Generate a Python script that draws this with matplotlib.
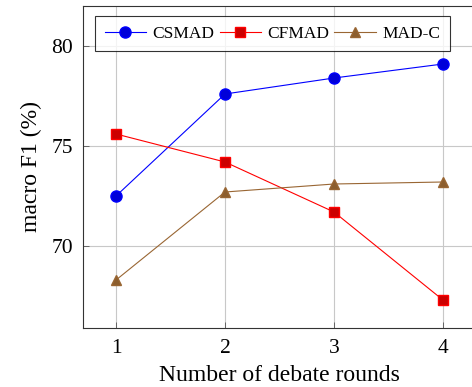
import numpy as np
import matplotlib
matplotlib.use("Agg")
import matplotlib.pyplot as plt

plt.rcParams['font.family'] = ['Liberation Serif', 'DejaVu Serif']
plt.rcParams['mathtext.fontset'] = 'stix'

rounds = [1, 2, 3, 4]
csmad = [72.5, 77.6, 78.4, 79.1]
cfmad = [75.6, 74.2, 71.7, 67.3]
madc = [68.3, 72.7, 73.1, 73.2]

fig = plt.figure(figsize=(4.72, 3.87), dpi=100)
ax = fig.add_axes([83/472, 59/387, 393/472, 322/387])

ax.plot(rounds, csmad, color='blue', lw=0.8, marker='o', ms=8,
        mfc=(0, 0, 0.85), mec='blue', label='CSMAD', zorder=3)
ax.plot(rounds, cfmad, color='red', lw=0.8, marker='s', ms=7.5,
        mfc=(0.8, 0, 0), mec='red', label='CFMAD', zorder=3)
ax.plot(rounds, madc, color=(0.6, 0.4, 0.2), lw=0.8, marker='^', ms=7.5,
        mfc=(0.55, 0.37, 0.18), mec=(0.6, 0.4, 0.2), label='MAD-C', zorder=3)

ax.set_xlim(0.697, 4.303)
ax.set_ylim(65.9, 82)
ax.set_xticks(rounds)
ax.set_yticks([70, 75, 80])
ax.grid(True, color='#c8c8c8', lw=0.8)
ax.tick_params(direction='in', length=4, width=0.6, color='#555555',
               labelsize=15.5, top=False, right=False)
ax.tick_params(axis='x', pad=8)
ax.tick_params(axis='y', pad=7)
for s in ax.spines.values():
    s.set_linewidth(0.8)
    s.set_color('#333333')

ax.set_xlabel('Number of debate rounds', fontsize=17, labelpad=5)
ax.set_ylabel('macro F1 (%)', fontsize=17, labelpad=7)

leg = ax.legend(loc='upper left', bbox_to_anchor=(12/393, 1 - 10/322), ncol=3,
                fontsize=12.5, frameon=True, fancybox=False, edgecolor='black',
                handlelength=2.4, columnspacing=0.3, handletextpad=0.35,
                borderpad=0.55, borderaxespad=0)
leg.get_frame().set_linewidth(0.8)

fig.savefig('out.png', dpi=100)
